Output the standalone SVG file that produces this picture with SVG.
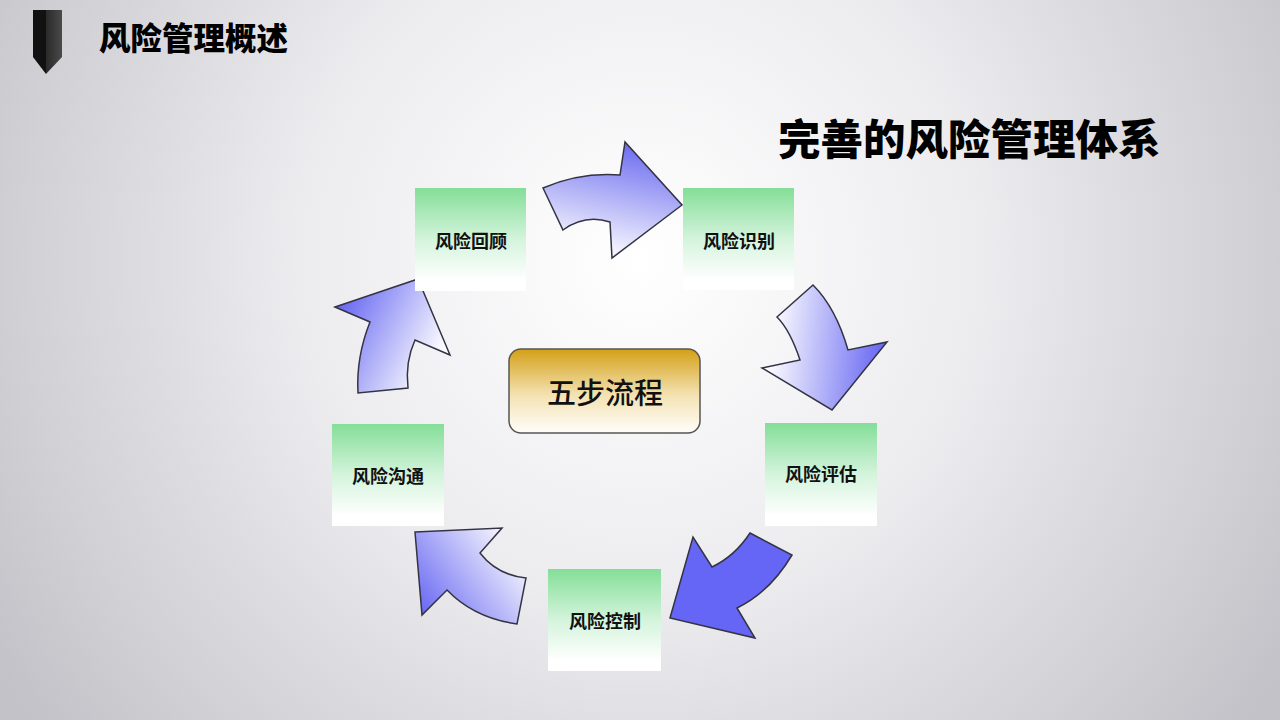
<svg xmlns="http://www.w3.org/2000/svg" width="1280" height="720" viewBox="0 0 1280 720">
<defs>
<radialGradient id="bg" cx="640" cy="260" r="760" gradientUnits="userSpaceOnUse">
<stop offset="0" stop-color="#ffffff"/>
<stop offset="0.45" stop-color="#ececef"/>
<stop offset="1" stop-color="#c2c2c8"/>
</radialGradient>
<linearGradient id="box" x1="0" y1="0" x2="0" y2="1">
<stop offset="0" stop-color="#84de98"/>
<stop offset="0.5" stop-color="#d4f4dc"/>
<stop offset="0.9" stop-color="#ffffff"/>
<stop offset="1" stop-color="#ffffff"/>
</linearGradient>
<linearGradient id="gold" x1="0" y1="0" x2="0" y2="1">
<stop offset="0" stop-color="#d4a017"/>
<stop offset="0.55" stop-color="#f3e2b2"/>
<stop offset="1" stop-color="#fffefa"/>
</linearGradient>
<linearGradient id="a1" x1="625" y1="142" x2="600" y2="258" gradientUnits="userSpaceOnUse">
<stop offset="0" stop-color="#6c6cf0"/>
<stop offset="1" stop-color="#ffffff"/>
</linearGradient>
<linearGradient id="a2" x1="887" y1="342" x2="770" y2="330" gradientUnits="userSpaceOnUse">
<stop offset="0" stop-color="#6464f2"/>
<stop offset="1" stop-color="#ffffff"/>
</linearGradient>
<linearGradient id="a4" x1="418" y1="615" x2="520" y2="540" gradientUnits="userSpaceOnUse">
<stop offset="0" stop-color="#6464f2"/>
<stop offset="1" stop-color="#ffffff"/>
</linearGradient>
<linearGradient id="a5" x1="335" y1="307" x2="440" y2="360" gradientUnits="userSpaceOnUse">
<stop offset="0" stop-color="#6464f2"/>
<stop offset="1" stop-color="#ffffff"/>
</linearGradient>
<linearGradient id="tabR" x1="0" y1="0" x2="1" y2="0">
<stop offset="0" stop-color="#2a2a2a"/>
<stop offset="1" stop-color="#4a4a4a"/>
</linearGradient>
<style>
.arrow{stroke:#333344;stroke-width:1.5;stroke-linejoin:miter}
.node rect.step{fill:url(#box)}
.lbl{font-family:"Noto Sans CJK SC","Noto Sans",sans-serif;font-weight:bold;font-size:18px;fill:#111;text-anchor:middle;dominant-baseline:central}
.head{font-family:"Noto Sans CJK SC","Noto Sans",sans-serif;font-weight:900;fill:#000}
</style>
</defs>
<rect x="0" y="0" width="1280" height="720" fill="url(#bg)"/>

<g id="header">
<polygon points="33,10 46,10 46,74 33,57" fill="#111"/>
<polygon points="46,10 62,10 62,57 46,74" fill="url(#tabR)"/>
<text class="head" x="99" y="50" font-size="31.5">风险管理概述</text>
</g>

<g id="title">
<text class="head" x="778" y="155" font-size="42.5">完善的风险管理体系</text>
</g>

<g id="connectors">
<path class="arrow" fill="url(#a1)" d="M543,188 Q580,172 620,175 L625,142 L682,205 L612,258 L610,222 Q585,214 563,230 Z"/>
<path class="arrow" fill="url(#a2)" d="M813,285 Q836,308 848,350 L887,342 L832,410 L762,368 L800,360 Q790,330 777,317 Z"/>
<path class="arrow" fill="#6565f6" d="M750,533 L792,555 Q770,592 737,608 L755,638 L670,618 L693,537 L712,567 Q735,556 750,533 Z"/>
<path class="arrow" fill="url(#a4)" d="M415,532 L502,528 L480,553 Q497,575 526,578 L517,624 Q474,618 447,590 L422,615 Z"/>
<path class="arrow" fill="url(#a5)" d="M335,307 L418,279 L450,355 L415,340 Q405,362 408,388 L358,393 Q356,357 370,322 Z"/>
</g>

<g id="node-review" class="node">
<rect class="step" x="415" y="188" width="111" height="103"/>
<text class="lbl" x="471" y="240">风险回顾</text>
</g>
<g id="node-identify" class="node">
<rect class="step" x="683" y="188" width="111" height="102"/>
<text class="lbl" x="739" y="240">风险识别</text>
</g>
<g id="node-assess" class="node">
<rect class="step" x="765" y="423" width="112" height="103"/>
<text class="lbl" x="821" y="473">风险评估</text>
</g>
<g id="node-control" class="node">
<rect class="step" x="548" y="569" width="113" height="102"/>
<text class="lbl" x="605" y="620">风险控制</text>
</g>
<g id="node-communicate" class="node">
<rect class="step" x="332" y="424" width="112" height="102"/>
<text class="lbl" x="388" y="475">风险沟通</text>
</g>

<g id="node-center" class="node">
<rect x="509" y="349" width="191" height="84" rx="12" ry="12" fill="url(#gold)" stroke="#555" stroke-width="1.5"/>
<text x="605" y="391" font-family="Noto Sans CJK SC,Noto Sans,sans-serif" font-size="29" font-weight="500" fill="#111" text-anchor="middle" dominant-baseline="central">五步流程</text>
</g>
</svg>
